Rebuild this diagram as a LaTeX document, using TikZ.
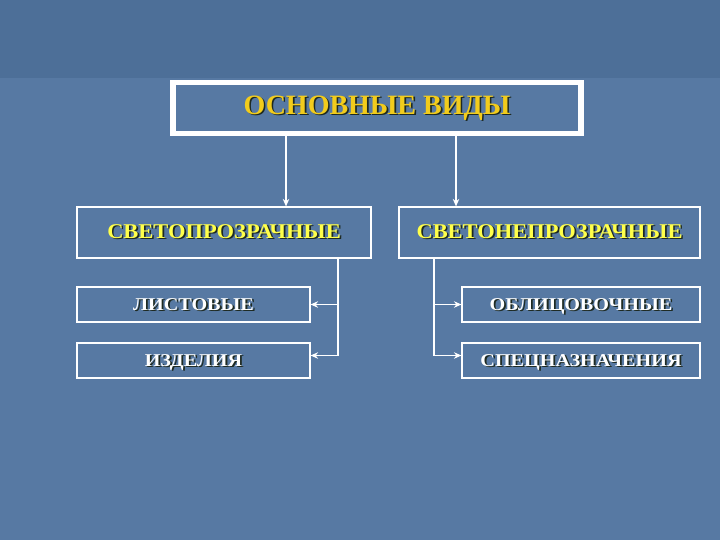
\documentclass[tikz,border=0pt]{standalone}
\usepackage{fontspec}
\setmainfont{Liberation Serif}
\usetikzlibrary{arrows.meta,positioning}

\definecolor{slidebg}{HTML}{5779A3}
\definecolor{slidetop}{HTML}{4D6F98}
\definecolor{titleyellow}{HTML}{F2CC1C}
\definecolor{headyellow}{HTML}{FFFF4A}
\definecolor{textshadow}{HTML}{1E2A22}

% text with a small dark drop shadow, slightly widened
\newcommand\shadowed[3]{\scalebox{#1}[1]{\makebox[0pt][l]{\hspace{1.6pt}\smash{\raisebox{-1.6pt}{\color{textshadow}#3}}}{\color{#2}#3}}}

\tikzset{
    box/.style={draw=white,line width=1.2pt,rectangle,inner sep=0pt,minimum height=35pt,
        text height=0.66em+5pt,text depth=0pt},
    headbox/.style={box,minimum height=51pt,font=\bfseries\fontsize{21}{24}\selectfont},
    leafbox/.style={box,font=\bfseries\fontsize{18}{22}\selectfont},
    arr/.style={draw=white,line width=1.3pt,-{Stealth[length=7.5pt,width=6.5pt]}}
}

\begin{document}
\begin{tikzpicture}[x=1pt,y=-1pt]

\fill[slidebg] (0,0) rectangle (720,540);
\fill[slidetop] (0,0) rectangle (720,78);
\useasboundingbox (0,0) rectangle (720,540);

\node (title) [draw=white,line width=5.5pt,minimum width=408pt,minimum height=51pt,inner sep=0pt,
    text height=0.66em+6pt,text depth=0pt,font=\bfseries\fontsize{28}{32}\selectfont] at (377,108)
    {\shadowed{1}{titleyellow}{ОСНОВНЫЕ ВИДЫ}};

\node (svet) [headbox,minimum width=294pt] at (224,232.5) {\shadowed{1.07}{headyellow}{СВЕТОПРОЗРАЧНЫЕ}};
\node (nesvet) [headbox,minimum width=301pt] at (549.5,232.5) {\shadowed{1.07}{headyellow}{СВЕТОНЕПРОЗРАЧНЫЕ}};

\node (list) [leafbox,minimum width=233pt] at (193.5,304.5) {\shadowed{1.12}{white}{ЛИСТОВЫЕ}};
\node (izd) [leafbox,minimum width=233pt] at (193.5,360.5) {\shadowed{1.12}{white}{ИЗДЕЛИЯ}};
\node (obl) [leafbox,minimum width=238pt] at (581,304.5) {\shadowed{1.12}{white}{ОБЛИЦОВОЧНЫЕ}};
\node (spec) [leafbox,minimum width=238pt] at (581,360.5) {\shadowed{1.12}{white}{СПЕЦНАЗНАЧЕНИЯ}};

% from the title down to both groups
\coordinate (tl) at (286,0);
\coordinate (tr) at (456,0);
\draw[arr] (title.south -| tl) -- (svet.north -| tl);
\draw[arr] (title.south -| tr) -- (nesvet.north -| tr);

% left group
\coordinate (lv) at (338,0);
\draw[arr] (svet.south -| lv) |- (list.east);
\draw[arr] (svet.south -| lv) |- ([yshift=5pt]izd.east);

% right group
\coordinate (rv) at (434,0);
\draw[arr] (nesvet.south -| rv) |- (obl.west);
\draw[arr] (nesvet.south -| rv) |- ([yshift=5pt]spec.west);

\end{tikzpicture}
\end{document}
